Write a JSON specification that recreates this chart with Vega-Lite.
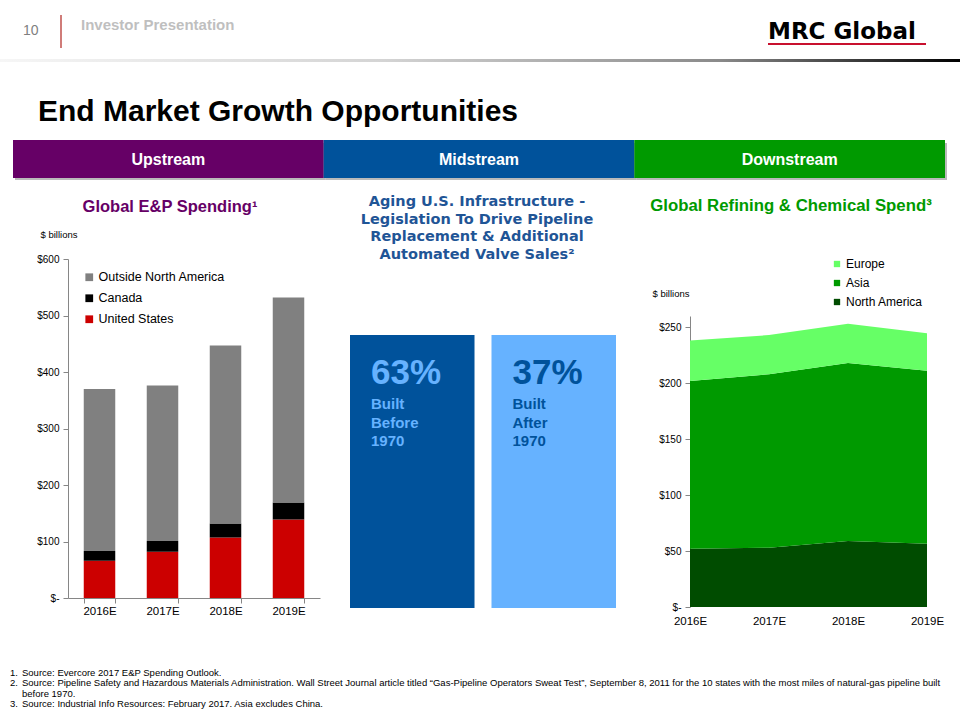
{
  "$schema": "https://vega.github.io/schema/vega-lite/v6.json",
  "background": "white",
  "padding": 0,
  "spacing": 0,
  "bounds": "full",
  "config": {
    "view": {"stroke": null},
    "font": "Liberation Sans",
    "legend": {"padding": 0}
  },
  "resolve": {
    "scale": {"color": "independent", "fill": "independent", "x": "independent", "y": "independent"},
    "legend": {"color": "independent", "fill": "independent"}
  },
  "vconcat": [
    {
      "width": 960,
      "height": 180,
      "resolve": {"scale": {"x": "independent", "color": "independent"}},
      "layer": [
        {
          "data": {"values": [{"page": "10", "section": "Investor Presentation", "brand": "MRC Global", "headline": "End Market Growth Opportunities"}]},
          "layer": [
            {
              "mark": {"type": "rect", "fill": {"gradient": "linear", "x1": 0, "x2": 1, "y1": 0, "y2": 0, "stops": [{"offset": 0, "color": "#f6f6f6"}, {"offset": 0.4, "color": "#d4d4d4"}, {"offset": 0.75, "color": "#8a8a8a"}, {"offset": 1, "color": "#000000"}]}},
              "encoding": {
                "x": {"datum": 0, "type": "quantitative", "scale": {"domain": [0, 960], "nice": false, "zero": false}, "axis": null},
                "x2": {"datum": 960},
                "y": {"datum": 59, "type": "quantitative", "scale": {"domain": [0, 180], "reverse": true, "nice": false, "zero": false}, "axis": null},
                "y2": {"datum": 62}
              }
            },
            {
              "mark": {"type": "text", "align": "left", "baseline": "alphabetic", "fontSize": 14, "color": "#7f7f7f"},
              "encoding": {"x": {"datum": 23, "type": "quantitative"}, "y": {"datum": 35, "type": "quantitative"}, "text": {"field": "page"}}
            },
            {
              "mark": {"type": "rule", "color": "#C0504D", "strokeWidth": 1.5},
              "encoding": {"x": {"datum": 61, "type": "quantitative"}, "y": {"datum": 15, "type": "quantitative"}, "y2": {"datum": 48}}
            },
            {
              "mark": {"type": "text", "align": "left", "baseline": "alphabetic", "fontSize": 15, "fontWeight": "bold", "color": "#BFBFBF"},
              "encoding": {"x": {"datum": 81, "type": "quantitative"}, "y": {"datum": 30, "type": "quantitative"}, "text": {"field": "section"}}
            },
            {
              "mark": {"type": "text", "align": "left", "baseline": "alphabetic", "fontSize": 23, "fontWeight": "bold", "font": "DejaVu Sans", "color": "#000000"},
              "encoding": {"x": {"datum": 768, "type": "quantitative"}, "y": {"datum": 39, "type": "quantitative"}, "text": {"field": "brand"}}
            },
            {
              "mark": {"type": "rect", "color": "#C8102E"},
              "encoding": {"x": {"datum": 768, "type": "quantitative"}, "x2": {"datum": 926}, "y": {"datum": 43, "type": "quantitative"}, "y2": {"datum": 45}}
            },
            {
              "mark": {"type": "text", "align": "left", "baseline": "alphabetic", "fontSize": 30, "fontWeight": "bold", "color": "#000000"},
              "encoding": {"x": {"datum": 38, "type": "quantitative"}, "y": {"datum": 121, "type": "quantitative"}, "text": {"field": "headline"}}
            }
          ]
        },
        {
          "data": {"values": [{"segment": "Upstream"}, {"segment": "Midstream"}, {"segment": "Downstream"}]},
          "encoding": {
            "x": {"field": "segment", "type": "nominal", "sort": null, "scale": {"domain": ["Upstream", "Midstream", "Downstream"], "range": [13, 945], "paddingInner": 0, "paddingOuter": 0}, "axis": null}
          },
          "layer": [
            {
              "mark": {"type": "rect", "color": "#8c8c8c", "opacity": 0.6, "xOffset": 2, "x2Offset": 2, "yOffset": 3, "y2Offset": 2},
              "encoding": {"y": {"datum": 140, "type": "quantitative"}, "y2": {"datum": 178}}
            },
            {
              "mark": {"type": "rect"},
              "encoding": {
                "y": {"datum": 140, "type": "quantitative"},
                "y2": {"datum": 178},
                "color": {"field": "segment", "type": "nominal", "scale": {"domain": ["Upstream", "Midstream", "Downstream"], "range": ["#660066", "#00529B", "#009A00"]}, "legend": null}
              }
            },
            {
              "mark": {"type": "text", "align": "center", "baseline": "middle", "fontSize": 16, "fontWeight": "bold", "color": "#ffffff"},
              "encoding": {"y": {"datum": 160, "type": "quantitative"}, "text": {"field": "segment"}}
            }
          ]
        }
      ]
    },
    {
      "spacing": 0,
      "bounds": "flush",
      "resolve": {
        "scale": {"color": "independent", "fill": "independent", "x": "independent", "y": "independent"},
        "legend": {"color": "independent", "fill": "independent"}
      },
      "hconcat": [
        {
          "width": 330,
          "height": 418,
          "title": {"text": "Global E&P Spending¹", "color": "#660066", "font": "Liberation Sans", "fontSize": 16.5, "fontWeight": "bold", "anchor": "middle", "frame": "group", "baseline": "top", "offset": -35, "dx": 5},
          "data": {
            "values": [
              {"year": "2016E", "series": "United States", "stackOrder": 1, "value": 66},
              {"year": "2016E", "series": "Canada", "stackOrder": 2, "value": 17},
              {"year": "2016E", "series": "Outside North America", "stackOrder": 3, "value": 287},
              {"year": "2017E", "series": "United States", "stackOrder": 1, "value": 82},
              {"year": "2017E", "series": "Canada", "stackOrder": 2, "value": 19},
              {"year": "2017E", "series": "Outside North America", "stackOrder": 3, "value": 275},
              {"year": "2018E", "series": "United States", "stackOrder": 1, "value": 107},
              {"year": "2018E", "series": "Canada", "stackOrder": 2, "value": 25},
              {"year": "2018E", "series": "Outside North America", "stackOrder": 3, "value": 315},
              {"year": "2019E", "series": "United States", "stackOrder": 1, "value": 139},
              {"year": "2019E", "series": "Canada", "stackOrder": 2, "value": 30},
              {"year": "2019E", "series": "Outside North America", "stackOrder": 3, "value": 363}
            ]
          },
          "mark": {"type": "bar"},
          "encoding": {
            "x": {
              "field": "year", "type": "nominal", "sort": null,
              "scale": {"range": [68, 320], "paddingInner": 0.5, "paddingOuter": 0.25},
              "axis": {"title": null, "labelAngle": 0, "tickBand": "extent", "tickSize": 5, "domainColor": "#868686", "tickColor": "#868686", "labelFontSize": 11.5, "labelColor": "#000000", "labelPadding": 2}
            },
            "y": {
              "field": "value", "type": "quantitative", "stack": "zero",
              "scale": {"domain": [0, 600], "range": [418, 79], "nice": false},
              "axis": {
                "orient": "left", "offset": -68, "values": [0, 100, 200, 300, 400, 500, 600],
                "labelExpr": "datum.value === 0 ? '$-' : '$' + datum.value",
                "grid": false, "tickSize": 5, "tickColor": "#868686", "domainColor": "#868686",
                "labelFontSize": 10, "labelColor": "#000000", "labelPadding": 4,
                "title": "$ billions", "titleAngle": 0, "titleAlign": "left", "titleBaseline": "alphabetic",
                "titleX": -28, "titleY": 57, "titleFontSize": 9.5, "titleFontWeight": "normal", "titleColor": "#000000"
              }
            },
            "order": {"field": "stackOrder", "type": "quantitative", "sort": "ascending"},
            "color": {
              "field": "series", "type": "nominal",
              "sort": ["Outside North America", "Canada", "United States"],
              "scale": {"domain": ["Outside North America", "Canada", "United States"], "range": ["#808080", "#000000", "#CC0000"]},
              "legend": {"orient": "none", "legendX": 83, "legendY": 91, "title": null, "symbolType": "square", "symbolSize": 60, "symbolStrokeWidth": 0, "labelFontSize": 12.5, "labelColor": "#000000", "rowPadding": 8, "labelOffset": 3}
            }
          }
        },
        {
          "width": 330,
          "height": 428,
          "title": {"text": ["Aging U.S. Infrastructure -", "Legislation To Drive Pipeline", "Replacement & Additional", "Automated Valve Sales²"], "color": "#1F5596", "font": "DejaVu Sans", "fontSize": 14.5, "fontWeight": "bold", "lineHeight": 17.5, "anchor": "middle", "frame": "group", "baseline": "top", "offset": -82, "dx": -18},
          "data": {
            "values": [
              {"period": "Before 1970", "share": 0.63, "desc": "Built\nBefore\n1970"},
              {"period": "After 1970", "share": 0.37, "desc": "Built\nAfter\n1970"}
            ]
          },
          "encoding": {
            "x": {"field": "period", "type": "nominal", "sort": null, "scale": {"domain": ["Before 1970", "After 1970"], "range": [20, 286], "paddingInner": 0.12, "paddingOuter": 0}, "axis": null}
          },
          "layer": [
            {
              "mark": {"type": "bar"},
              "encoding": {
                "y": {"datum": 1, "type": "quantitative", "scale": {"domain": [0, 1], "range": [428, 155], "nice": false}, "axis": null},
                "color": {"field": "period", "type": "nominal", "scale": {"domain": ["Before 1970", "After 1970"], "range": ["#00529B", "#66B2FF"]}, "legend": null}
              }
            },
            {
              "mark": {"type": "text", "align": "left", "baseline": "alphabetic", "dx": 21, "dy": 49, "fontSize": 35, "fontWeight": "bold"},
              "encoding": {
                "x": {"field": "period", "type": "nominal", "bandPosition": 0},
                "y": {"datum": 1, "type": "quantitative"},
                "text": {"field": "share", "type": "quantitative", "format": ".0%"},
                "fill": {"field": "period", "type": "nominal", "scale": {"domain": ["Before 1970", "After 1970"], "range": ["#66B2FF", "#00529B"]}, "legend": null}
              }
            },
            {
              "mark": {"type": "text", "align": "left", "baseline": "top", "lineBreak": "\n", "lineHeight": 18.5, "dx": 21, "dy": 62, "fontSize": 15, "fontWeight": "bold"},
              "encoding": {
                "x": {"field": "period", "type": "nominal", "bandPosition": 0},
                "y": {"datum": 1, "type": "quantitative"},
                "text": {"field": "desc", "type": "nominal"},
                "fill": {"field": "period", "type": "nominal", "scale": {"domain": ["Before 1970", "After 1970"], "range": ["#66B2FF", "#00529B"]}, "legend": null}
              }
            }
          ]
        },
        {
          "width": 300,
          "height": 427,
          "title": {"text": "Global Refining & Chemical Spend³", "color": "#009A00", "font": "Liberation Sans", "fontSize": 16.8, "fontWeight": "bold", "anchor": "middle", "frame": "group", "baseline": "top", "offset": -35, "dx": -19},
          "data": {
            "values": [
              {"year": "2016E", "region": "North America", "stackOrder": 1, "value": 52},
              {"year": "2016E", "region": "Asia", "stackOrder": 2, "value": 150},
              {"year": "2016E", "region": "Europe", "stackOrder": 3, "value": 36},
              {"year": "2017E", "region": "North America", "stackOrder": 1, "value": 53},
              {"year": "2017E", "region": "Asia", "stackOrder": 2, "value": 155},
              {"year": "2017E", "region": "Europe", "stackOrder": 3, "value": 35},
              {"year": "2018E", "region": "North America", "stackOrder": 1, "value": 59},
              {"year": "2018E", "region": "Asia", "stackOrder": 2, "value": 159},
              {"year": "2018E", "region": "Europe", "stackOrder": 3, "value": 35},
              {"year": "2019E", "region": "North America", "stackOrder": 1, "value": 56.5},
              {"year": "2019E", "region": "Asia", "stackOrder": 2, "value": 154.5},
              {"year": "2019E", "region": "Europe", "stackOrder": 3, "value": 33.5}
            ]
          },
          "mark": {"type": "area", "interpolate": "linear"},
          "encoding": {
            "x": {
              "field": "year", "type": "ordinal", "sort": null,
              "scale": {"type": "point", "range": [30, 267], "padding": 0},
              "axis": {"title": null, "labelAngle": 0, "domain": false, "ticks": false, "tickSize": 0, "labelFontSize": 11.5, "labelColor": "#000000", "labelPadding": 8}
            },
            "y": {
              "field": "value", "type": "quantitative", "stack": "zero",
              "scale": {"domain": [0, 260], "range": [427, 136], "nice": false},
              "axis": {
                "orient": "left", "offset": -30, "values": [0, 50, 100, 150, 200, 250],
                "labelExpr": "datum.value === 0 ? '$-' : '$' + datum.value",
                "grid": false, "tickSize": 5, "tickColor": "#868686", "domainColor": "#868686",
                "labelFontSize": 10, "labelColor": "#000000", "labelPadding": 4,
                "title": "$ billions", "titleAngle": 0, "titleAlign": "left", "titleBaseline": "alphabetic",
                "titleX": -38, "titleY": 116, "titleFontSize": 9.5, "titleFontWeight": "normal", "titleColor": "#000000"
              }
            },
            "order": {"field": "stackOrder", "type": "quantitative", "sort": "ascending"},
            "color": {
              "field": "region", "type": "nominal",
              "sort": ["Europe", "Asia", "North America"],
              "scale": {"domain": ["Europe", "Asia", "North America"], "range": ["#66FF66", "#009A00", "#004C00"]},
              "legend": {"orient": "none", "legendX": 171, "legendY": 78, "title": null, "symbolType": "square", "symbolSize": 40, "symbolStrokeWidth": 0, "labelFontSize": 12, "labelColor": "#000000", "rowPadding": 7, "labelOffset": 3}
            }
          }
        }
      ]
    },
    {
      "width": 960,
      "height": 93,
      "data": {
        "values": [
          {"line": 1, "num": "1.", "note": "Source: Evercore 2017 E&P Spending Outlook."},
          {"line": 2, "num": "2.", "note": "Source: Pipeline Safety and Hazardous Materials Administration. Wall Street Journal article titled “Gas-Pipeline Operators Sweat Test”, September 8, 2011 for the 10 states with the most miles of natural-gas pipeline built"},
          {"line": 3, "num": "", "note": "before 1970."},
          {"line": 4, "num": "3.", "note": "Source: Industrial Info Resources: February 2017. Asia excludes China."}
        ]
      },
      "encoding": {
        "y": {"field": "line", "type": "quantitative", "scale": {"domain": [1, 4], "range": [46, 77], "nice": false, "zero": false}, "axis": null}
      },
      "layer": [
        {
          "mark": {"type": "text", "align": "left", "baseline": "middle", "fontSize": 9.5, "color": "#000000"},
          "encoding": {"x": {"datum": 10, "type": "quantitative", "scale": {"domain": [0, 960], "nice": false, "zero": false}, "axis": null}, "text": {"field": "num"}}
        },
        {
          "mark": {"type": "text", "align": "left", "baseline": "middle", "fontSize": 9.5, "color": "#000000"},
          "encoding": {"x": {"datum": 22, "type": "quantitative"}, "text": {"field": "note"}}
        }
      ]
    }
  ]
}
